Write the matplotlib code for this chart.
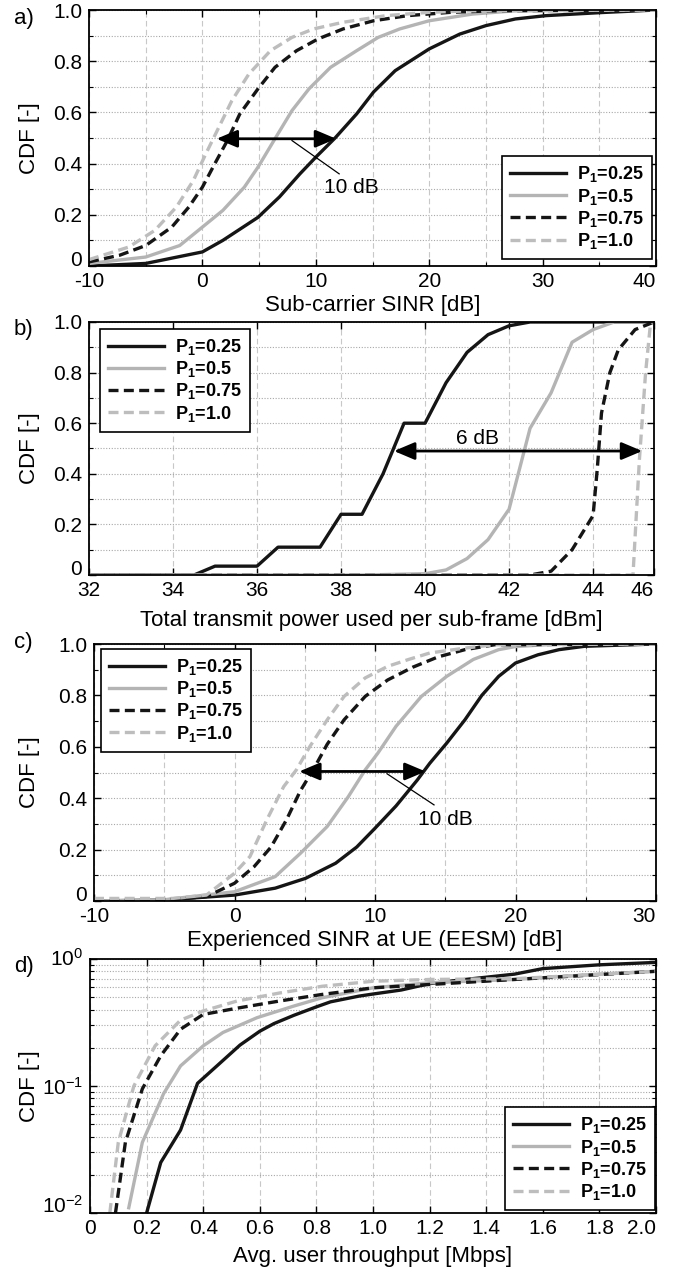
import matplotlib.pyplot as plt
from matplotlib.ticker import MultipleLocator, FixedLocator, FixedFormatter, LogLocator, NullFormatter

plt.rcParams['font.family'] = ['Liberation Sans', 'DejaVu Sans']
plt.rcParams['mathtext.fontset'] = 'custom'
plt.rcParams['mathtext.rm'] = 'Liberation Sans'
plt.rcParams['mathtext.bf'] = 'Liberation Sans:bold'
plt.rcParams['mathtext.it'] = 'Liberation Sans:italic'
plt.rcParams['axes.unicode_minus'] = False

legendas = ['P$_\\mathbf{1}$=0.25', 'P$_\\mathbf{1}$=0.5', 'P$_\\mathbf{1}$=0.75', 'P$_\\mathbf{1}$=1.0']

# a) SINR por sub-portadora
a_x025 = [-10, -5, 0, 1.8, 4.9, 6.8, 8.6, 10, 11.7, 13.6, 15.1, 17, 20, 22.7, 25, 27.6, 30.3, 35.2, 40]
a_y025 = [0, 0.01, 0.055, 0.1, 0.19, 0.27, 0.36, 0.425, 0.5, 0.594, 0.68, 0.763, 0.848, 0.906, 0.939, 0.965, 0.978, 0.99, 1.0]
a_x05 = [-10, -5, -2, 0, 1.8, 3.7, 4.9, 6.4, 7.9, 9.4, 11.3, 13.6, 15.5, 17.4, 20, 23.8, 27.6, 40]
a_y05 = [0.01, 0.035, 0.08, 0.152, 0.217, 0.308, 0.386, 0.497, 0.607, 0.692, 0.776, 0.841, 0.893, 0.926, 0.958, 0.984, 0.997, 1.0]
a_x075 = [-10, -7.3, -5, -2.7, -1.2, 0, 1.1, 2.2, 3.3, 4.9, 6.4, 8.3, 10.2, 12.4, 15.1, 18.1, 21.9, 25.7, 40]
a_y075 = [0.016, 0.042, 0.08, 0.152, 0.23, 0.308, 0.4, 0.49, 0.594, 0.692, 0.776, 0.841, 0.887, 0.926, 0.958, 0.978, 0.991, 0.997, 1.0]
a_x10 = [-10, -6.5, -4.2, -2.3, -0.8, 0.3, 1.45, 2.6, 4.1, 6, 7.9, 9.8, 12.4, 16.2, 20, 23.8, 40]
a_y10 = [0.025, 0.074, 0.139, 0.23, 0.334, 0.438, 0.542, 0.646, 0.75, 0.841, 0.893, 0.926, 0.952, 0.978, 0.991, 0.997, 1.0]

# b) potencia total transmitida
b_x025 = [32, 34.5, 35, 36, 36.5, 37.5, 38, 38.5, 39, 39.5, 40, 40.5, 41, 41.5, 42, 42.5, 45.45]
b_y025 = [0, 0, 0.035, 0.035, 0.11, 0.11, 0.24, 0.24, 0.4, 0.6, 0.6, 0.76, 0.88, 0.95, 0.985, 1.0, 1.0]
b_x05 = [32, 38.5, 40, 40.5, 41, 41.5, 42, 42.5, 43, 43.5, 44, 44.5, 45.45]
b_y05 = [0, 0, 0.005, 0.02, 0.065, 0.14, 0.26, 0.58, 0.72, 0.92, 0.97, 1.0, 1.0]
b_x075 = [32, 42.5, 43, 43.5, 44, 44.1, 44.2, 44.4, 44.6, 45, 45.45]
b_y075 = [0, 0, 0.015, 0.1, 0.235, 0.42, 0.64, 0.8, 0.89, 0.97, 1.0]
b_x10 = [32, 44.95, 45.1, 45.25, 45.37, 45.45]
b_y10 = [0, 0, 0.45, 0.8, 1.0, 1.0]

# c) SINR experimentado (EESM)
c_x025 = [-10, -5, 0, 2.9, 5.05, 7.2, 8.7, 10, 11.5, 13, 13.9, 15.1, 16.4, 17.6, 18.8, 20, 21.6, 23.1, 24.9, 30]
c_y025 = [0, 0.004, 0.023, 0.05, 0.088, 0.147, 0.21, 0.283, 0.37, 0.47, 0.536, 0.614, 0.705, 0.8, 0.874, 0.926, 0.958, 0.978, 0.991, 1.0]
c_x05 = [-10, -5, 0, 2.9, 4.7, 6.6, 8.1, 9.3, 10.2, 11.5, 13.3, 15.1, 17, 18.8, 20, 23, 30]
c_y05 = [0, 0.005, 0.036, 0.095, 0.186, 0.29, 0.406, 0.51, 0.575, 0.68, 0.796, 0.874, 0.94, 0.978, 0.99, 1.0, 1.0]
c_x075 = [-10, -4.4, -2, 0, 1.4, 2.6, 3.7, 4.7, 5.7, 6.6, 7.8, 9.3, 10.9, 12.7, 14.5, 16.4, 18.5, 30]
c_y075 = [0, 0.006, 0.017, 0.069, 0.134, 0.21, 0.316, 0.43, 0.52, 0.61, 0.705, 0.796, 0.86, 0.91, 0.95, 0.978, 0.997, 1.0]
c_x10 = [-10, -4.4, -2, 0, 1.1, 2.3, 3.5, 4.4, 5.35, 6.6, 7.8, 9.3, 10.9, 12.4, 13.9, 16.4, 18.5, 30]
c_y10 = [0.01, 0.01, 0.023, 0.108, 0.173, 0.316, 0.445, 0.51, 0.6, 0.705, 0.796, 0.868, 0.913, 0.94, 0.965, 0.984, 0.997, 1.0]

# d) vazao media por usuario
d_x025 = [0.2, 0.25, 0.32, 0.38, 0.45, 0.53, 0.6, 0.65, 0.72, 0.8, 0.85, 0.95, 1.0, 1.1, 1.2, 1.3, 1.5, 1.6, 1.8, 1.9, 2.0]
d_y025 = [0.01, 0.025, 0.045, 0.105, 0.145, 0.21, 0.27, 0.31, 0.36, 0.42, 0.46, 0.51, 0.53, 0.57, 0.64, 0.68, 0.76, 0.84, 0.9, 0.92, 0.94]
d_x05 = [0.137, 0.185, 0.26, 0.32, 0.4, 0.47, 0.59, 0.72, 0.82, 1.0, 1.2, 1.5, 1.8, 2.0]
d_y05 = [0.011, 0.036, 0.087, 0.144, 0.207, 0.264, 0.345, 0.426, 0.495, 0.593, 0.65, 0.69, 0.76, 0.8]
d_x075 = [0.09, 0.125, 0.185, 0.25, 0.32, 0.4, 0.52, 0.67, 0.82, 1.0, 1.2, 1.5, 2.0]
d_y075 = [0.01, 0.036, 0.095, 0.173, 0.28, 0.366, 0.41, 0.467, 0.526, 0.593, 0.63, 0.69, 0.8]
d_x10 = [0.07, 0.1, 0.155, 0.23, 0.32, 0.4, 0.52, 0.67, 0.82, 1.0, 1.2, 1.5, 2.0]
d_y10 = [0.01, 0.036, 0.1, 0.207, 0.33, 0.39, 0.467, 0.54, 0.61, 0.668, 0.69, 0.7, 0.8]

# rotulos dos eixos
y_ticks = [0, 0.2, 0.4, 0.6, 0.8, 1.0]
y_labels = ['0', '0.2', '0.4', '0.6', '0.8', '1.0']
a_ticks = [-10, 0, 10, 20, 30, 40]
b_ticks = [32, 34, 36, 38, 40, 42, 44, 45.45]
b_labels = ['32', '34', '36', '38', '40', '42', '44', '46']
c_ticks = [-10, 0, 10, 20, 30]
d_ticks = [0, 0.2, 0.4, 0.6, 0.8, 1.0, 1.2, 1.4, 1.6, 1.8, 2.0]
d_labels = ['0', '0.2', '0.4', '0.6', '0.8', '1.0', '1.2', '1.4', '1.6', '1.8', '2.0']
d_yticks = [0.01, 0.1, 1]
d_ylabels = ['$10^{-2}$', '$10^{-1}$', '$10^{0}$']

estilos = [('#151515', '-'), ('#b4b4b4', '-'), ('#151515', (0, (3, 1.6))), ('#bdbdbd', (0, (3, 1.6)))]

W, H = 673, 1276
fig = plt.figure(figsize=(W / 100, H / 100), dpi=100)


def novo_eixo(esq, topo, dir, base):
    return fig.add_axes([esq / W, 1 - base / H, (dir - esq) / W, (base - topo) / H])


def curvas(ax, series):
    for (x, y), (cor, ls), rot in zip(series, estilos, legendas):
        ax.plot(x, y, color=cor, linestyle=ls, lw=2.4, label=rot)


def estilo(ax):
    ax.tick_params(which='both', direction='in', top=True, right=True, labelsize=15)
    ax.tick_params(axis='x', pad=4)
    ax.tick_params(axis='y', pad=5)
    ax.tick_params(which='major', length=5, width=1)
    ax.tick_params(which='minor', length=3, width=0.8)
    for s in ax.spines.values():
        s.set_linewidth(1.3)
    ax.grid(True, which='both', axis='x', linestyle=(0, (5, 3)), color='#c8c8c8', lw=0.8)
    ax.grid(True, which='both', axis='y', linestyle=(0, (1, 1.5)), color='#a8a8a8', lw=0.8)
    ax.set_axisbelow(True)


def legenda(ax, loc, anc):
    leg = ax.legend(loc=loc, bbox_to_anchor=anc, borderaxespad=0, fancybox=False,
                    framealpha=1, edgecolor='k', handlelength=3.1, handletextpad=0.6,
                    labelspacing=0.12, borderpad=0.45,
                    prop={'weight': 'bold', 'size': 13})
    leg.get_frame().set_linewidth(1.2)


def eixo_y_lin(ax):
    ax.set_ylim(0, 1)
    ax.yaxis.set_major_locator(FixedLocator(y_ticks))
    ax.yaxis.set_major_formatter(FixedFormatter(y_labels))
    ax.yaxis.set_minor_locator(MultipleLocator(0.1))
    ax.get_yticklabels()[0].set_va('baseline')


def rotulos(ax, xlab, esq, larg, alt, dist):
    ax.set_xlabel(xlab, fontsize=16)
    ax.set_ylabel('CDF [-]', fontsize=16)
    ax.xaxis.set_label_coords(0.5, -dist / alt)
    ax.yaxis.set_label_coords((40 - esq) / larg, 0.5)
    ax.get_xticklabels()[-1].set_ha('right')


def seta(ax, x0, x1, y):
    ax.annotate('', xy=(x1, y), xytext=(x0, y),
                arrowprops=dict(arrowstyle='<|-|>,head_length=0.9,head_width=0.38', color='k',
                                lw=2, mutation_scale=14, shrinkA=0, shrinkB=0))


# ---- a)
ax = novo_eixo(89, 10, 656, 266)
estilo(ax)
curvas(ax, [(a_x025, a_y025), (a_x05, a_y05), (a_x075, a_y075), (a_x10, a_y10)])
ax.set_xlim(-10, 40)
ax.xaxis.set_major_locator(FixedLocator(a_ticks))
ax.xaxis.set_minor_locator(MultipleLocator(5))
eixo_y_lin(ax)
rotulos(ax, 'Sub-carrier SINR [dB]', 89, 567, 256, 29)
seta(ax, 1.25, 11.8, 0.497)
ax.plot([7.9, 12.06], [0.49, 0.36], color='k', lw=0.9)
ax.text(13.1, 0.306, '10 dB', fontsize=15, ha='center', va='center')
legenda(ax, 'lower right', (1 - 4 / 567, 7 / 256))

# ---- b)
ax = novo_eixo(89, 322, 654, 575)
estilo(ax)
curvas(ax, [(b_x025, b_y025), (b_x05, b_y05), (b_x075, b_y075), (b_x10, b_y10)])
ax.set_xlim(32, 45.45)
ax.xaxis.set_major_locator(FixedLocator(b_ticks))
ax.xaxis.set_major_formatter(FixedFormatter(b_labels))
eixo_y_lin(ax)
rotulos(ax, 'Total transmit power used per sub-frame [dBm]', 89, 565, 253, 35)
seta(ax, 39.26, 45.17, 0.49)
ax.text(41.25, 0.54, '6 dB', fontsize=15, ha='center', va='center')
legenda(ax, 'upper left', (11 / 565, 1 - 7 / 253))

# ---- c)
ax = novo_eixo(94, 644, 656, 901)
estilo(ax)
curvas(ax, [(c_x025, c_y025), (c_x05, c_y05), (c_x075, c_y075), (c_x10, c_y10)])
ax.set_xlim(-10, 30)
ax.xaxis.set_major_locator(FixedLocator(c_ticks))
ax.xaxis.set_minor_locator(MultipleLocator(5))
eixo_y_lin(ax)
rotulos(ax, 'Experienced SINR at UE (EESM) [dB]', 94, 562, 257, 29)
seta(ax, 4.6, 13.6, 0.504)
ax.plot([10.86, 14.2], [0.495, 0.374], color='k', lw=0.9)
ax.text(15.0, 0.316, '10 dB', fontsize=15, ha='center', va='center')
legenda(ax, 'upper left', (7 / 562, 1 - 5 / 257))

# ---- d)
ax = novo_eixo(90, 959, 656, 1213)
estilo(ax)
curvas(ax, [(d_x025, d_y025), (d_x05, d_y05), (d_x075, d_y075), (d_x10, d_y10)])
ax.set_yscale('log')
ax.set_ylim(0.01, 1)
ax.set_xlim(0, 2)
ax.yaxis.set_major_locator(FixedLocator(d_yticks))
ax.yaxis.set_major_formatter(FixedFormatter(d_ylabels))
ax.yaxis.set_minor_locator(LogLocator(base=10, subs=range(2, 10)))
ax.yaxis.set_minor_formatter(NullFormatter())
ax.xaxis.set_major_locator(FixedLocator(d_ticks))
ax.xaxis.set_major_formatter(FixedFormatter(d_labels))
ax.get_yticklabels()[0].set_va('baseline')
ax.get_yticklabels()[-1].set_va('center')
rotulos(ax, 'Avg. user throughput [Mbps]', 90, 566, 254, 33)
legenda(ax, 'lower right', (1 - 1 / 566, 3 / 254))

# letras dos paineis
for letra, topo in zip(['a)', 'b)', 'c)', 'd)'], [8, 319, 632, 956]):
    fig.text(14 / W, 1 - topo / H, letra, fontsize=16, ha='left', va='top')

fig.savefig('out.png', dpi=100)
